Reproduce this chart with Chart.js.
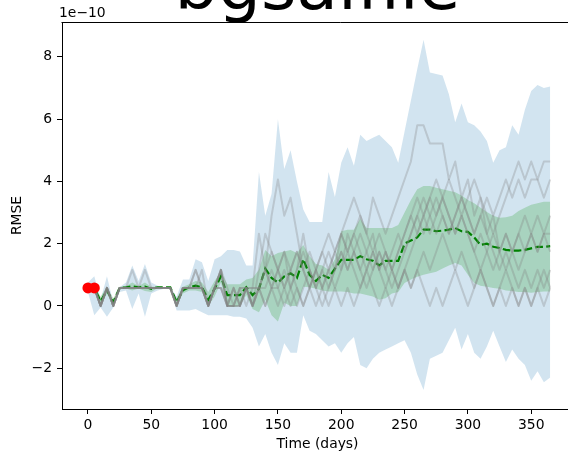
<!DOCTYPE html>
<html><head><meta charset="utf-8">
<script src="https://cdn.jsdelivr.net/npm/chart.js@4.4.1/dist/chart.umd.min.js"></script>
<style>
html,body{margin:0;padding:0;background:#fff;overflow:hidden;width:568px;height:455px}
#wrap{position:absolute;left:0;top:0;width:620px;height:455px}
</style></head>
<body><div id="wrap"><canvas id="c" width="620" height="455"></canvas></div>
<script>
// ---- data (RMSE in units of 1e-10) ----
const TITLE = 'bgsaifile';
const OFFSET_TEXT = '1e\u221210';
const X_LABEL = 'Time (days)';
const Y_LABEL = 'RMSE';

const days = [0,5,10,15,20,25,30,35,40,45,50,55,60,65,70,75,80,85,90,95,100,105,110,115,120,125,130,135,140,145,150,155,160,165,170,175,180,185,190,195,200,205,210,215,220,225,230,235,240,245,250,255,260,265,270,275,280,285,290,295,300,305,310,315,320,325,330,335,340,345,350,355,360,365];

const blueUpper = [0.75,0.95,0.2,0.95,0.1,0.6,0.75,1.3,0.8,1.35,
  0.75,0.65,0.6,0.6,0.3,0.85,0.85,1.5,1.4,0.8,
  1.5,1.6,1.8,1.8,1.75,1.3,1.3,4.3,2.9,3.6,
  6.0,4.4,5.0,4.0,3.1,2.7,2.7,2.7,4.3,3.5,
  4.6,5.1,4.5,5.5,5.3,5.4,5.5,5.3,5.1,4.6,
  5.6,6.6,7.6,8.55,7.5,7.45,7.4,6.8,5.9,6.5,
  5.9,5.8,5.6,5.3,4.6,5.0,5.1,5.8,5.5,6.3,
  6.9,7.1,7.0,7.05];
const blueLower = [0.45,-0.3,-0.05,-0.35,-0.05,0.45,0.5,-0.1,0.4,-0.35,
  0.4,0.5,0.55,0.55,-0.15,-0.15,-0.15,-0.1,-0.2,-0.3,
  -0.3,-0.3,-0.3,-0.35,-0.35,-0.4,-0.7,-1.3,-0.9,-1.5,
  -1.9,-1.2,-1.5,-1.5,-0.3,-0.8,-0.9,-1.1,-1.3,-1.2,
  -1.5,-1.2,-1.0,-1.9,-2.0,-1.7,-1.5,-1.4,-1.3,-1.2,
  -1.1,-1.5,-2.2,-2.7,-1.7,-1.6,-1.5,-1.1,-0.7,-1.4,
  -0.9,-1.5,-1.7,-1.3,-0.8,-1.3,-1.8,-1.4,-1.7,-1.9,
  -2.4,-2.1,-2.45,-2.3];
const greenUpper = [0.6,0.62,0.3,0.62,0.25,0.62,0.64,0.75,0.64,0.75,
  0.62,0.62,0.6,0.6,0.25,0.62,0.7,0.8,0.75,0.45,
  0.8,1.1,0.7,0.7,0.7,0.85,0.9,1.16,1.8,1.6,
  1.7,1.75,1.8,1.7,1.96,1.6,1.35,1.3,1.16,1.5,
  2.4,2.45,2.45,2.8,2.5,2.5,2.5,2.5,2.5,2.6,
  3.0,3.4,3.75,3.85,3.85,3.8,3.75,3.7,3.65,3.55,
  3.4,3.3,3.15,3.02,2.9,2.83,2.85,2.9,3.05,3.15,
  3.25,3.3,3.35,3.35];
const greenLower = [0.56,0.54,0.0,0.4,0.0,0.54,0.56,0.5,0.56,0.48,
  0.45,0.58,0.58,0.58,0.0,0.4,0.5,0.5,0.45,0.0,
  0.3,0.75,0.0,-0.03,0.0,0.35,-0.1,-0.2,0.2,-0.3,
  -0.5,0.1,0.0,0.0,0.62,0.6,0.55,0.5,0.46,0.46,
  0.46,0.45,0.4,0.4,0.35,0.3,0.2,0.25,0.4,0.45,
  0.74,0.85,0.94,1.0,1.05,1.1,1.2,1.3,1.38,1.3,
  1.0,0.74,0.65,0.62,0.58,0.55,0.5,0.48,0.45,0.45,
  0.42,0.45,0.46,0.46];
const meanRmse = [0.58,0.58,0.15,0.5,0.12,0.58,0.6,0.63,0.6,0.62,
  0.55,0.6,0.6,0.6,0.12,0.5,0.6,0.65,0.6,0.2,
  0.55,0.95,0.35,0.35,0.35,0.6,0.35,0.55,1.2,0.9,
  0.75,0.95,1.05,0.9,1.5,1.0,0.8,1.0,0.9,1.2,
  1.48,1.48,1.48,1.6,1.5,1.45,1.3,1.45,1.45,1.45,
  2.0,2.1,2.2,2.45,2.45,2.4,2.42,2.45,2.5,2.4,
  2.38,2.2,1.96,2.0,1.9,1.86,1.8,1.78,1.78,1.8,
  1.85,1.9,1.9,1.92];

const run1 = [0.58,0.58,0,0.58,0,0.58,0.58,1.16,0.58,0.58,
  0.58,0.58,0.58,0.58,0,0.58,0.58,1.16,0.58,0,
  0.58,1.16,0,0.58,0,0.58,0,1.16,2.32,1.74,
  1.16,1.74,0.58,1.16,2.32,1.16,0.58,1.16,0.58,1.16,
  2.32,2.9,3.48,2.9,2.32,3.48,2.9,2.32,2.9,3.48,
  4.06,4.64,5.8,5.8,5.22,5.22,5.22,4.06,4.64,3.48,
  4.06,2.9,3.48,2.32,2.9,1.74,2.32,1.74,2.32,1.74,
  2.32,1.74,2.32,1.74];
const run2 = [0.58,0.58,0,0.58,0,0.58,0.58,0.58,0.58,1.16,
  0.58,0.58,0.58,0.58,0,0.58,0.58,0.58,1.16,0,
  0.58,0.58,0,0,0.58,0,0.58,2.32,1.16,2.9,
  4.06,2.9,3.48,2.32,1.16,1.74,1.16,0.58,1.16,1.74,
  1.16,2.32,1.74,1.16,1.74,2.32,1.16,1.74,1.16,0.58,
  1.16,1.74,2.32,2.9,3.48,2.9,3.48,4.06,3.48,2.9,
  3.48,4.06,3.48,2.9,2.32,2.9,3.48,4.06,4.64,4.06,
  4.64,4.06,4.64,4.64];
const run3 = [0.58,0.58,0,0.58,0,0.58,0.58,0.58,0.58,0.58,
  0.58,0.58,0.58,0.58,0,0.58,0.58,0.58,0.58,0,
  0.58,1.16,0.58,0,0.58,0.58,0,0.58,0,0.58,
  0,0.58,0,0.58,0,0.58,1.16,0.58,0,0.58,
  0,0.58,0,0.58,1.16,0.58,0,0.58,0,0.58,
  1.16,0.58,1.16,0.58,0,0.58,0,0.58,1.16,0.58,
  0,0.58,1.16,0.58,0,0.58,0,0.58,0,0.58,
  0,0.58,0,0.58];
const run4 = [0.58,0.58,0,0.58,0,0.58,0.58,0.58,0.58,0.58,
  0.58,0.58,0.58,0.58,0,0.58,0.58,0.58,0.58,0,
  0.58,1.16,0,0.58,0,0.58,0.58,0.58,1.16,0.58,
  1.16,1.74,1.16,1.74,1.16,0.58,1.16,1.74,2.32,1.74,
  2.32,1.74,2.32,1.74,1.16,1.74,1.16,1.74,1.16,1.74,
  2.32,2.9,2.32,2.9,2.32,2.9,3.48,2.9,2.32,2.9,
  2.32,1.74,2.32,1.74,1.16,1.74,2.32,1.74,1.16,1.74,
  2.32,1.74,2.32,2.32];
const run5 = [0.58,0.58,0,0.58,0,0.58,0.58,0.58,0.58,0.58,
  0.58,0.58,0.58,0.58,0,0.58,0.58,0.58,0.58,0,
  0.58,0.58,0,0,0.58,0.58,0,0.58,0.58,1.16,
  0.58,0,0.58,1.16,1.74,1.16,0.58,1.16,1.74,1.16,
  1.74,1.16,1.74,2.32,1.74,1.16,1.74,1.16,0.58,1.16,
  1.74,2.32,2.9,2.32,2.9,3.48,2.9,2.32,2.9,3.48,
  2.9,2.32,2.9,2.32,1.74,1.16,1.74,1.16,0.58,1.16,
  0.58,1.16,0.58,1.16];
const run6 = [0.58,0.58,0,0.58,0,0.58,0.58,0.58,0.58,0.58,
  0.58,0.58,0.58,0.58,0,0.58,0.58,1.16,0.58,0,
  0.58,1.16,0,0.58,0,0.58,0,0.58,0,0.58,
  0.58,1.16,0.58,0,0.58,1.16,0.58,0,0.58,1.16,
  1.74,1.16,1.74,1.16,0.58,1.16,1.74,1.16,1.74,2.32,
  1.74,2.32,2.9,3.48,2.9,2.32,2.9,2.32,2.9,3.48,
  2.9,2.32,2.9,3.48,2.9,3.48,4.06,3.48,4.06,3.48,
  4.06,4.06,3.48,4.06];
const run7 = [0.58,0.58,0,0.58,0,0.58,0.58,0.58,0.58,0.58,
  0.58,0.58,0.58,0.58,0,0.58,0.58,0.58,0.58,0,
  0.58,1.16,0,0,0,0.58,0,0.58,1.16,0.58,
  1.16,0.58,1.16,1.74,1.16,0.58,0,0.58,1.16,0.58,
  1.16,1.74,1.16,0.58,1.16,1.74,1.16,0.58,1.16,0.58,
  1.16,0.58,1.16,1.74,1.16,1.74,2.32,1.74,1.16,1.74,
  1.16,0.58,1.16,0.58,0,0.58,1.16,0.58,0,0.58,
  0,0.58,1.16,0.58];
const run8 = [0.58,0.58,0,0.58,0,0.58,0.58,0.58,0.58,0.58,
  0.58,0.58,0.58,0.58,0,0.58,0.58,0.58,0.58,0,
  0.58,0.58,0,0,0,0.58,0.58,0.58,1.16,1.74,
  1.16,0.58,1.16,0.58,0,0.58,1.16,1.74,1.16,1.74,
  2.32,1.74,2.32,2.9,2.32,1.74,2.32,1.74,1.16,1.74,
  2.32,2.9,3.48,2.9,3.48,4.06,3.48,2.9,2.32,2.9,
  2.32,1.74,1.16,1.74,2.32,1.74,1.16,1.74,2.32,2.9,
  2.32,2.9,2.32,2.9];
const runs = [run1, run2, run3, run4, run5, run6, run7, run8];

const startDays = [0, 5];
const startRmse = [0.58, 0.58];

// ---- chart ----
const FONT = 'DejaVu Sans';
const pts = arr => days.map((d, i) => ({x: d, y: arr[i]}));
const none = 'rgba(0,0,0,0)';

const datasets = [
  {data: pts(blueUpper), fill: '+1', backgroundColor: 'rgba(31,119,180,0.2)', borderColor: none, borderWidth: 0, pointRadius: 0, order: 5},
  {data: pts(blueLower), fill: false, borderColor: none, borderWidth: 0, pointRadius: 0, order: 5},
  {data: pts(greenUpper), fill: '+1', backgroundColor: 'rgba(44,160,44,0.25)', borderColor: none, borderWidth: 0, pointRadius: 0, order: 4},
  {data: pts(greenLower), fill: false, borderColor: none, borderWidth: 0, pointRadius: 0, order: 4}
];
datasets.push({data: pts(meanRmse), fill: false, borderColor: '#008000', borderWidth: 2.2, borderDash: [7.7, 3.3], pointRadius: 0, order: 3});
runs.forEach(r => datasets.push({data: pts(r), fill: false, borderColor: 'rgba(128,128,128,0.3)', borderWidth: 2, borderJoinStyle: 'round', pointRadius: 0, order: 2}));
datasets.push({data: startDays.map((d, i) => ({x: d, y: startRmse[i]})), showLine: false, pointRadius: 5.5, pointHoverRadius: 5.5, pointBackgroundColor: '#ff0000', pointBorderColor: '#ff0000', pointBorderWidth: 0, order: 1});

const deco = {
  id: 'deco',
  afterDraw(chart) {
    const {ctx, chartArea: a} = chart;
    ctx.save();
    ctx.strokeStyle = '#000';
    ctx.lineWidth = 1;
    ctx.beginPath();
    ctx.moveTo(a.left - 0.5, Math.round(a.top) + 0.5);
    ctx.lineTo(chart.width, Math.round(a.top) + 0.5);
    ctx.stroke();
    ctx.fillStyle = '#000';
    ctx.textAlign = 'left';
    ctx.textBaseline = 'alphabetic';
    ctx.font = '13.9px "' + FONT + '"';
    ctx.fillText(OFFSET_TEXT, a.left - 3, a.top - 5);
    ctx.font = '68px "' + FONT + '"';
    ctx.textAlign = 'center';
    ctx.fillText(TITLE, (a.left + a.right) / 2, 9);
    ctx.restore();
  }
};

const tickFont = {family: FONT, size: 13.9};
new Chart(document.getElementById('c'), {
  type: 'line',
  data: {datasets},
  options: {
    responsive: false, animation: false, devicePixelRatio: 1,
    layout: {padding: {left: 0, right: 47, top: 22, bottom: 0}},
    plugins: {legend: {display: false}, tooltip: {enabled: false}, title: {display: false}},
    elements: {line: {tension: 0}},
    scales: {
      x: {
        type: 'linear', min: -20.5, max: 383,
        afterFit(s) { s.height = 46; },
        ticks: {stepSize: 50, includeBounds: false, color: '#000', font: tickFont, padding: 3, maxRotation: 0},
        grid: {drawOnChartArea: false, drawTicks: true, tickLength: 5, color: '#000', lineWidth: 1},
        border: {display: true, color: '#000', width: 1},
        title: {display: true, text: X_LABEL, color: '#000', font: tickFont, padding: {top: 0, bottom: 2}}
      },
      y: {
        type: 'linear', min: -3.31, max: 9.12,
        afterFit(s) { s.width = 62; },
        ticks: {stepSize: 2, includeBounds: false, color: '#000', font: tickFont, padding: 5,
          callback: v => v < 0 ? '\u2212' + Math.abs(v) : String(v)},
        grid: {drawOnChartArea: false, drawTicks: true, tickLength: 5, color: '#000', lineWidth: 1},
        border: {display: true, color: '#000', width: 1},
        title: {display: true, text: Y_LABEL, color: '#000', font: tickFont, padding: {top: 9, bottom: 0}}
      }
    }
  },
  plugins: [deco]
});
</script>
</body></html>
